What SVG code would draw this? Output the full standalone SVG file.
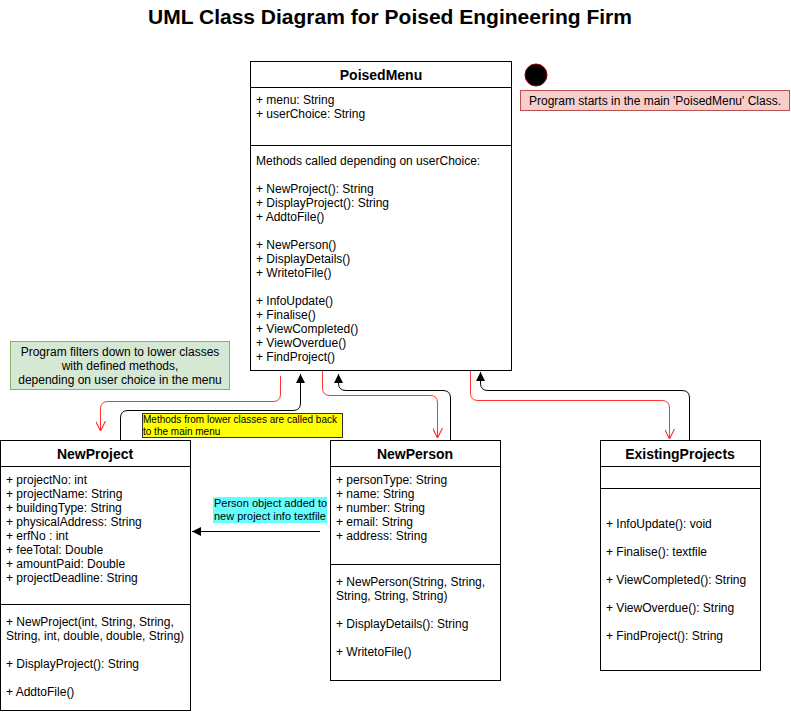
<svg xmlns="http://www.w3.org/2000/svg" width="791" height="714" viewBox="0 0 791 714">
<style>
text{font-family:"Liberation Sans",Arial,sans-serif;font-size:12px;fill:#000}
.t{font-size:21px;font-weight:bold;text-anchor:middle}
.h{font-size:14px;font-weight:bold;text-anchor:middle}
.c{text-anchor:middle}
.box{fill:#fff;stroke:#000;stroke-width:1}
.ln{stroke:#000;stroke-width:1;fill:none}
.red{stroke:#ff3333;stroke-width:1;fill:none}
.blk{stroke:#000;stroke-width:1;fill:none}
.sm{font-size:10px}
.cy{font-size:11px}
</style>
<defs>
<marker id="ab" viewBox="0 0 10 10" refX="10" refY="5" markerWidth="9" markerHeight="9" markerUnits="userSpaceOnUse" orient="auto">
<path d="M0,0 L10,5 L0,10 Z" fill="#000"/>
</marker>
<marker id="ar" viewBox="0 0 10 10" refX="10" refY="5" markerWidth="10" markerHeight="10" markerUnits="userSpaceOnUse" orient="auto">
<path d="M0,0 L10,5 L0,10" fill="none" stroke="#ff3333" stroke-width="1.2"/>
</marker>
</defs>
<rect width="791" height="714" fill="#fff"/>
<text class="t" x="390" y="24">UML Class Diagram for Poised Engineering Firm</text>

<g id="PoisedMenu">
<rect class="box" x="250.5" y="61.5" width="261" height="309"/>
<line class="ln" x1="250.5" y1="87.5" x2="511.5" y2="87.5"/>
<line class="ln" x1="250.5" y1="145.5" x2="511.5" y2="145.5"/>
<text class="h" x="381" y="80">PoisedMenu</text>
<text x="256" y="104">+ menu: String</text>
<text x="256" y="118">+ userChoice: String</text>
<text x="256" y="165">Methods called depending on userChoice:</text>
<text x="256" y="193">+ NewProject(): String</text>
<text x="256" y="207">+ DisplayProject(): String</text>
<text x="256" y="221">+ AddtoFile()</text>
<text x="256" y="249">+ NewPerson()</text>
<text x="256" y="263">+ DisplayDetails()</text>
<text x="256" y="277">+ WritetoFile()</text>
<text x="256" y="305">+ InfoUpdate()</text>
<text x="256" y="319">+ Finalise()</text>
<text x="256" y="333">+ ViewCompleted()</text>
<text x="256" y="347">+ ViewOverdue()</text>
<text x="256" y="361">+ FindProject()</text>
</g>

<g id="start">
<circle cx="536" cy="75" r="11" fill="#000" stroke="#990000" stroke-width="1"/>
</g>
<g id="startNote">
<rect x="520.5" y="90.5" width="269" height="20" fill="#f8cecc" stroke="#b85450"/>
<text class="c" x="655" y="105">Program starts in the main 'PoisedMenu' Class.</text>
</g>

<g id="filterNote">
<rect x="10.5" y="341.5" width="219" height="48" fill="#d5e8d4" stroke="#82b366"/>
<text class="c" x="120" y="356">Program filters down to lower classes</text>
<text class="c" x="120" y="370">with defined methods,</text>
<text class="c" x="120" y="384">depending on user choice in the menu</text>
</g>

<g id="NewProject">
<rect class="box" x="0.5" y="440.5" width="190" height="270"/>
<line class="ln" x1="0.5" y1="466.5" x2="190.5" y2="466.5"/>
<line class="ln" x1="0.5" y1="604.5" x2="190.5" y2="604.5"/>
<text class="h" x="95" y="459">NewProject</text>
<text x="6" y="484">+ projectNo: int</text>
<text x="6" y="498">+ projectName: String</text>
<text x="6" y="512">+ buildingType: String</text>
<text x="6" y="526">+ physicalAddress: String</text>
<text x="6" y="540">+ erfNo : int</text>
<text x="6" y="554">+ feeTotal: Double</text>
<text x="6" y="568">+ amountPaid: Double</text>
<text x="6" y="582">+ projectDeadline: String</text>
<text x="6" y="626">+ NewProject(int, String, String,</text>
<text x="6" y="640">String, int, double, double, String)</text>
<text x="6" y="668">+ DisplayProject(): String</text>
<text x="6" y="696">+ AddtoFile()</text>
</g>

<g id="NewPerson">
<rect class="box" x="330.5" y="440.5" width="170" height="240"/>
<line class="ln" x1="330.5" y1="466.5" x2="500.5" y2="466.5"/>
<line class="ln" x1="330.5" y1="564.5" x2="500.5" y2="564.5"/>
<text class="h" x="415" y="459">NewPerson</text>
<text x="336" y="484">+ personType: String</text>
<text x="336" y="498">+ name: String</text>
<text x="336" y="512">+ number: String</text>
<text x="336" y="526">+ email: String</text>
<text x="336" y="540">+ address: String</text>
<text x="336" y="586">+ NewPerson(String, String,</text>
<text x="336" y="600">String, String, String)</text>
<text x="336" y="628">+ DisplayDetails(): String</text>
<text x="336" y="656">+ WritetoFile()</text>
</g>

<g id="ExistingProjects">
<rect class="box" x="600.5" y="440.5" width="160" height="230"/>
<line class="ln" x1="600.5" y1="466.5" x2="760.5" y2="466.5"/>
<line class="ln" x1="600.5" y1="488.5" x2="760.5" y2="488.5"/>
<text class="h" x="680" y="459">ExistingProjects</text>
<text x="606" y="528">+ InfoUpdate(): void</text>
<text x="606" y="556">+ Finalise(): textfile</text>
<text x="606" y="584">+ ViewCompleted(): String</text>
<text x="606" y="612">+ ViewOverdue(): String</text>
<text x="606" y="640">+ FindProject(): String</text>
</g>

<g id="connectors">
<path class="red" d="M280.5,376 V394 Q280.5,401.5 273,401.5 H108 Q100.5,401.5 100.5,409 V431" marker-end="url(#ar)"/>
<path class="blk" d="M120.5,440 V418 Q120.5,410.5 128,410.5 H293 Q300.5,410.5 300.5,403 V374" marker-end="url(#ab)"/>
<path class="red" d="M322.5,371 V388 Q322.5,395.5 330,395.5 H430 Q437.5,395.5 437.5,403 V438" marker-end="url(#ar)"/>
<path class="blk" d="M450.5,440 V398 Q450.5,390.5 443,390.5 H346 Q338.5,390.5 338.5,383 V374" marker-end="url(#ab)"/>
<path class="red" d="M470.5,371 V393 Q470.5,400.5 478,400.5 H662 Q669.5,400.5 669.5,408 V439" marker-end="url(#ar)"/>
<path class="blk" d="M689.5,440 V398 Q689.5,390.5 682,390.5 H488 Q480.5,390.5 480.5,383 V372" marker-end="url(#ab)"/>
<path class="blk" d="M320,531.5 H192" marker-end="url(#ab)"/>
</g>

<g id="calledBackLabel">
<rect x="142.5" y="413.5" width="200" height="24" fill="#ffff00" stroke="#333"/>
<text class="sm" x="143" y="423">Methods from lower classes are called back</text>
<text class="sm" x="143" y="435">to the main menu</text>
</g>

<g id="personAddedLabel">
<rect x="213" y="497" width="114" height="26" fill="#66ffff"/>
<text class="cy" x="214" y="507">Person object added to</text>
<text class="cy" x="214" y="520">new project info textfile</text>
</g>
</svg>
